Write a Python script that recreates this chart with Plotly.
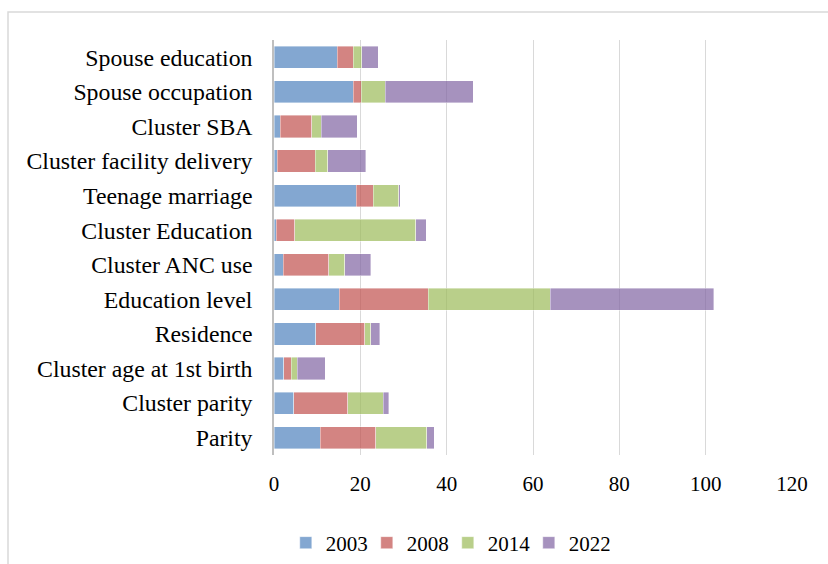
import plotly.graph_objects as go

# Categories listed top to bottom as they appear on the chart
categories = [
    "Spouse education",
    "Spouse occupation",
    "Cluster SBA",
    "Cluster facility delivery",
    "Teenage marriage",
    "Cluster Education",
    "Cluster ANC use",
    "Education level",
    "Residence",
    "Cluster age at 1st birth",
    "Cluster parity",
    "Parity",
]

years = ["2003", "2008", "2014", "2022"]

v2003 = [14.7, 18.4, 1.4, 0.8, 19.1, 0.5, 2.1, 15.1, 9.7, 2.2, 4.6, 10.7]
v2008 = [3.6, 1.8, 7.3, 8.7, 3.9, 4.3, 10.6, 20.6, 11.3, 1.8, 12.5, 12.9]
v2014 = [2.0, 5.6, 2.2, 2.9, 5.9, 28.0, 3.7, 28.3, 1.4, 1.4, 8.2, 11.8]
v2022 = [3.9, 20.4, 8.4, 8.8, 0.3, 2.5, 6.0, 37.9, 2.1, 6.5, 1.3, 1.7]

series = [v2003, v2008, v2014, v2022]
colors = [
    "rgba(79,129,189,0.7)",
    "rgba(192,80,77,0.7)",
    "rgba(155,187,89,0.7)",
    "rgba(128,100,162,0.7)",
]

x_ticks = [0, 20, 40, 60, 80, 100, 120]

FONT = "Liberation Serif, Times New Roman, serif"

fig = go.Figure()
for name, vals, col in zip(years, series, colors):
    fig.add_trace(go.Bar(
        y=categories,
        x=vals,
        name=name,
        orientation="h",
        marker=dict(color=col, line=dict(color="rgba(255,255,255,0.5)", width=0.8)),
    ))

fig.update_layout(
    width=828,
    height=564,
    barmode="stack",
    bargap=0.36,
    plot_bgcolor="white",
    paper_bgcolor="white",
    margin=dict(l=274, r=36, t=40, b=109, autoexpand=False),
    font=dict(family=FONT, size=21, color="black"),
    showlegend=True,
    legend=dict(
        orientation="h",
        x=0.3355,
        xanchor="center",
        y=-0.212,
        yanchor="middle",
        font=dict(family=FONT, size=21),
        traceorder="normal",
        itemwidth=30,
        entrywidth=36,
        entrywidthmode="pixels",
    ),
    xaxis=dict(
        range=[0, 120],
        tickvals=x_ticks,
        showgrid=True,
        gridcolor="#d9d9d9",
        gridwidth=1.2,
        zeroline=False,
        showline=False,
        ticks="",
        ticklabelstandoff=14,
        tickfont=dict(family=FONT, size=21),
        fixedrange=True,
    ),
    yaxis=dict(
        categoryorder="array",
        categoryarray=categories[::-1],
        showline=True,
        linecolor="#bfbfbf",
        linewidth=1.5,
        showgrid=False,
        ticks="",
        ticklabelstandoff=15,
        tickfont=dict(family=FONT, size=23.8),
        fixedrange=True,
    ),
    shapes=[
        dict(
            type="rect",
            xref="paper", yref="paper",
            x0=-0.5135, x1=1.5, y0=-0.6, y1=1.0675,
            line=dict(color="#d9d9d9", width=1.5),
            fillcolor="rgba(0,0,0,0)",
            layer="below",
        )
    ],
)

fig.write_html("out.html")
